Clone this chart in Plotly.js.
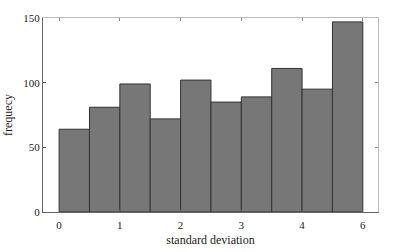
<!DOCTYPE html>
<html>
<head>
<meta charset="utf-8">
<script src="https://cdn.plot.ly/plotly-3.0.1.min.js"></script>
<style>html,body{margin:0;padding:0;background:#fff;}#chart{width:395px;height:252px;}</style>
</head>
<body>
<div id="chart"></div>
<script>
// histogram counts per bin (10 bins)
const counts = [64, 81, 99, 72, 102, 85, 89, 111, 95, 147];
// x tick positions (bin boundaries) and their labels as printed
const tickVals = [0, 2, 4, 6, 8, 10];
const tickLabels = ["0", "1", "2", "3", "4", "6"];
const yTickVals = [0, 50, 100, 150];

const fontFam = '"Liberation Serif", "Times New Roman", serif';

const trace = {
  type: 'bar',
  y: counts,
  x0: 0.5,
  dx: 1,
  width: 1,
  marker: {color: '#777777', line: {color: '#333333', width: 1}},
  hoverinfo: 'none',
  showlegend: false
};

const xr = [-0.53, 10.5];
const yr = [0, 150];

const layout = {
  width: 395, height: 252,
  margin: {l: 43, r: 17, t: 18, b: 40},
  paper_bgcolor: '#fff', plot_bgcolor: '#fff',
  font: {family: fontFam, size: 11, color: '#222'},
  bargap: 0,
  xaxis: {
    range: xr, tickvals: tickVals, ticktext: tickLabels,
    ticks: 'inside', ticklen: 3, tickcolor: '#555', tickwidth: 1,
    ticklabelstandoff: 3,
    showline: true, linecolor: '#666', linewidth: 1,
    showgrid: false, zeroline: false,
    tickfont: {family: fontFam, size: 11, color: '#222'},
    title: {text: 'standard deviation', font: {family: fontFam, size: 12, color: '#222'}, standoff: 5}
  },
  xaxis2: {
    overlaying: 'x', side: 'top', range: xr, tickvals: tickVals,
    showticklabels: false, ticks: 'inside', ticklen: 3, tickcolor: '#888',
    showline: true, linecolor: '#bbb', linewidth: 1, showgrid: false, zeroline: false
  },
  yaxis: {
    range: yr, tickvals: yTickVals,
    ticks: 'inside', ticklen: 3, tickcolor: '#555',
    showline: true, linecolor: '#666', linewidth: 1,
    showgrid: false, zeroline: false,
    tickfont: {family: fontFam, size: 11, color: '#222'},
    title: {text: 'frequecy', font: {family: fontFam, size: 12, color: '#222'}, standoff: 8}
  },
  yaxis2: {
    overlaying: 'y', side: 'right', range: yr, tickvals: yTickVals,
    showticklabels: false, ticks: 'inside', ticklen: 3, tickcolor: '#888',
    showline: true, linecolor: '#bbb', linewidth: 1, showgrid: false, zeroline: false
  }
};

const ghost = {type: 'scatter', x: [], y: [], xaxis: 'x2', yaxis: 'y2', showlegend: false, hoverinfo: 'none'};

Plotly.newPlot('chart', [trace, ghost], layout, {staticPlot: true, displayModeBar: false});
</script>
</body>
</html>
